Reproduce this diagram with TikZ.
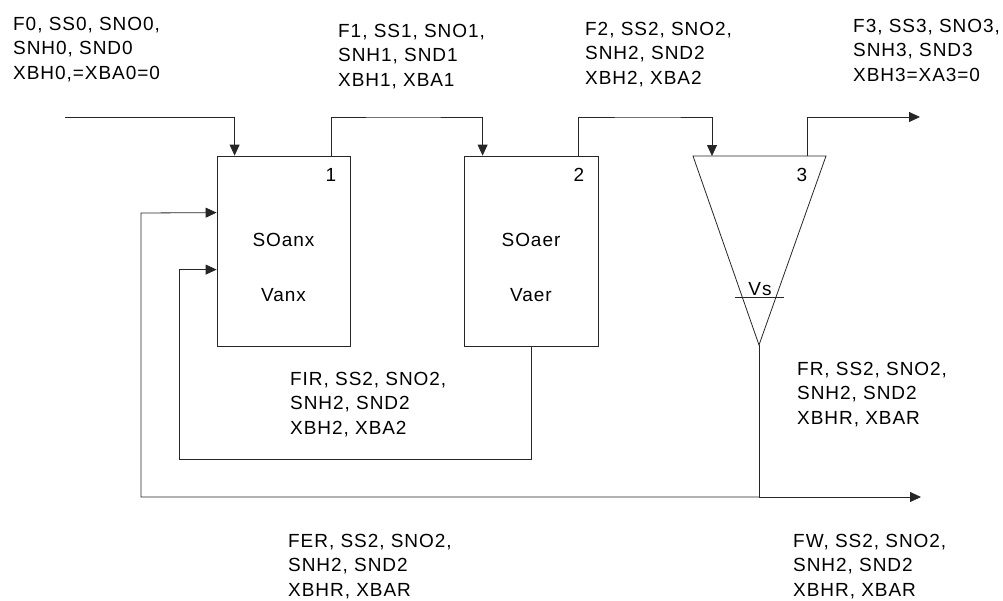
\documentclass[tikz,border=0pt]{standalone}
\usepackage{fontspec}
\setmainfont{Liberation Sans}[LetterSpace=5]
\usetikzlibrary{arrows.meta}
\begin{document}
\begin{tikzpicture}[x=1pt,y=-1pt,
  line/.style={draw=black!85, line width=0.8pt},
  flow/.style={line, -{Triangle[length=11pt,width=10pt]}},
  unit/.style={draw=black!85, line width=0.8pt, rectangle, minimum height=190pt, inner sep=0pt},
  lbl/.style={anchor=base west, align=left, inner sep=0pt, font=\fontsize{19}{24.5}\selectfont},
  txt/.style={inner sep=0pt, font=\fontsize{19}{24.5}\selectfont}]
\useasboundingbox (0,0) rectangle (1003,600);

% reactors
\node[unit, minimum width=133pt] (box1) at (283.5,251) {};
\node[unit, minimum width=134pt] (box2) at (531,251) {};
% settler
\coordinate (tl) at (693,156);
\coordinate (tr) at (826,156);
\coordinate (apex) at (759,345);
\draw[line] (tl) -- (tr) -- (apex) -- cycle;
\coordinate (vsl) at (735,297);
\coordinate (vsr) at (784,297);
\draw[line] (vsl) -- (vsr);

% labels inside units
\node[txt] (n1) at (331,175) {1};
\node[txt] (n2) at (579,175) {2};
\node[txt] (n3) at (802,175) {3};
\node[txt] (soanx) at (283.5,240) {SOanx};
\node[txt] (vanx) at (283.5,295) {Vanx};
\node[txt] (soaer) at (531,240) {SOaer};
\node[txt] (vaer) at (531,295) {Vaer};
\node[txt, anchor=base] (vs) at (760,295) {Vs};

% stream coordinates
\coordinate (in) at (65,117);
\coordinate (out3) at (920,117);
\coordinate (t2a) at (712,156);
\coordinate (t3a) at (807,156);
\coordinate (ir) at (179,459);
\coordinate (ob) at (141,213);
\coordinate (junc) at (759,497);
\coordinate (wout) at (921,497);

% forward streams
\draw[flow] (in) -| ([xshift=18pt]box1.north west);
\draw[flow] ([xshift=-19pt]box1.north east) |- (400,117) -| ([xshift=19pt]box2.north west);
\draw[flow] ([xshift=-20pt]box2.north east) |- (650,117) -| (t2a);
\draw[flow] (t3a) |- (out3);
% internal recycle
\draw[flow] (box2.south) |- (ir) |- ([yshift=-114pt]box1.north west);
% external recycle and wastage
\draw[line] (apex) -- (junc);
\draw[flow] (junc) -| (ob) -- ([yshift=-57pt]box1.north west);
\draw[flow] (junc) -- (wout);

% stream labels (anchor = baseline of last line)
\node[lbl] (s0) at (13,79) {F0, SS0, SNO0,\\SNH0, SND0\\XBH0,=XBA0=0};
\node[lbl] (s1) at (338,86) {F1, SS1, SNO1,\\SNH1, SND1\\XBH1, XBA1};
\node[lbl] (s2) at (585,84) {F2, SS2, SNO2,\\SNH2, SND2\\XBH2, XBA2};
\node[lbl] (s3) at (853,81) {F3, SS3, SNO3,\\SNH3, SND3\\XBH3=XA3=0};
\node[lbl] (sir) at (290,434) {FIR, SS2, SNO2,\\SNH2, SND2\\XBH2, XBA2};
\node[lbl] (sr) at (797,424) {FR, SS2, SNO2,\\SNH2, SND2\\XBHR, XBAR};
\node[lbl] (ser) at (288,596) {FER, SS2, SNO2,\\SNH2, SND2\\XBHR, XBAR};
\node[lbl] (sw) at (793,596) {FW, SS2, SNO2,\\SNH2, SND2\\XBHR, XBAR};
\end{tikzpicture}
\end{document}
